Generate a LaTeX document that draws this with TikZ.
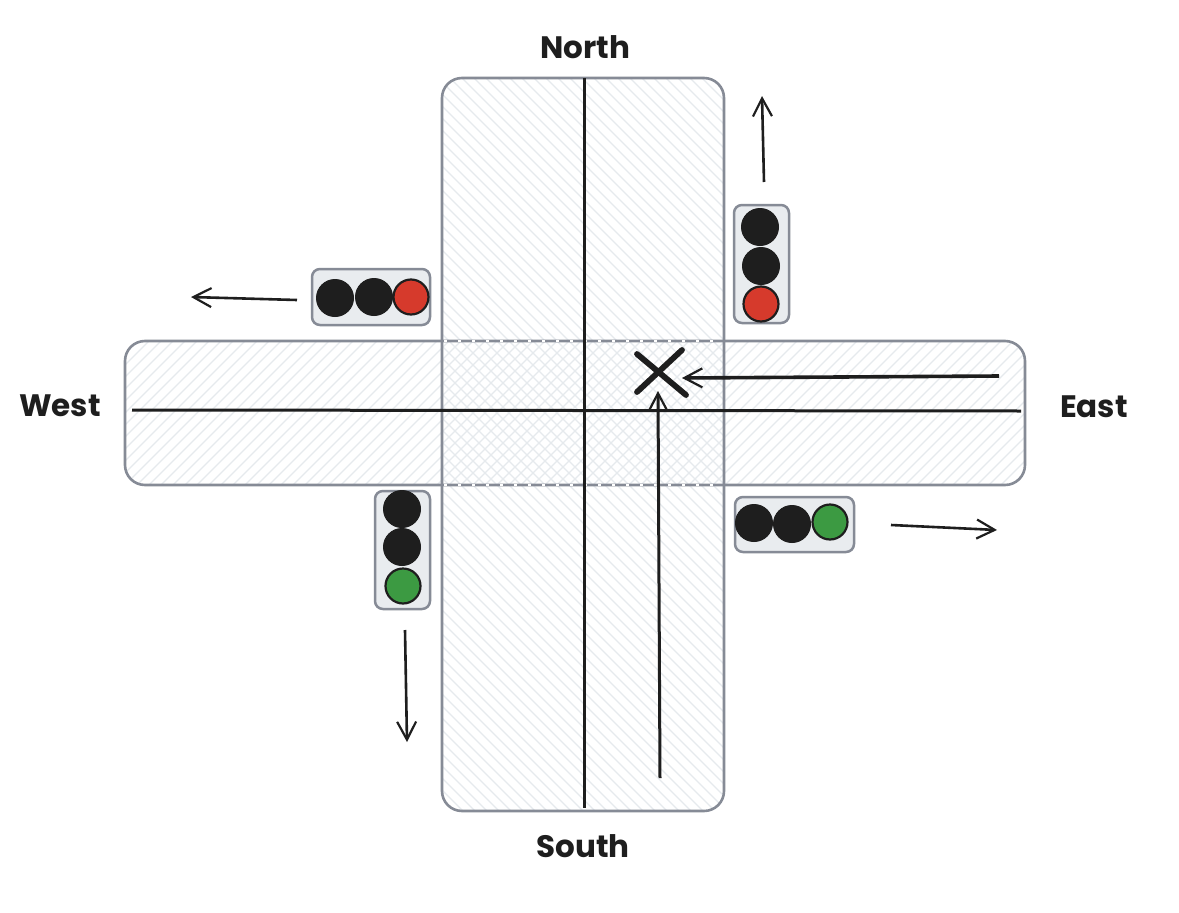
\documentclass[tikz,border=0pt]{standalone}
\usepackage{fontspec}
\setmainfont{Poppins}
\usetikzlibrary{arrows.meta}
\definecolor{ink}{HTML}{1E1E1E}
\definecolor{roadedge}{HTML}{868B96}
\definecolor{hatch}{HTML}{E6EAED}
\definecolor{panel}{HTML}{E9ECEF}
\definecolor{lampred}{HTML}{D63A2C}
\definecolor{lampgreen}{HTML}{3C9A42}
\tikzset{
  x=1pt,y=-1pt,
  roadedgeline/.style={draw=roadedge,line width=2.6pt,rounded corners=20pt},
  hatchline/.style={draw=hatch,line width=1.3pt},
  centre/.style={draw=ink,line width=3pt},
  flow/.style={draw=ink,line width=2.6pt,-{Straight Barb[length=18pt,width=19pt,line width=2.2pt]}},
  flowheavy/.style={flow,line width=3.6pt},
  panelbox/.style={fill=panel,draw=roadedge,line width=2.5pt,rounded corners=8pt},
  lamp/.style={circle,minimum size=37pt,inner sep=0pt,fill=ink,draw=ink,line width=1pt},
  redlamp/.style={lamp,fill=lampred,line width=2.2pt,minimum size=35pt},
  greenlamp/.style={lamp,fill=lampgreen,line width=2.2pt,minimum size=35pt},
  compass/.style={font=\fontsize{31}{34}\selectfont\bfseries,text=ink,inner sep=0pt},
  crossbar/.style={draw=ink,line width=5.8pt,line cap=round}
}
\begin{document}
\begin{tikzpicture}
\useasboundingbox (0,0) rectangle (1179,913);
\fill[white] (0,0) rectangle (1179,913);
% vertical road hatching
\begin{scope}
  \clip[rounded corners=20pt] (442,78) rectangle (724,811);
  \foreach \k in {-800,-788,...,800} {
    \draw[hatchline] (442,{78+\k}) -- (724,{78+\k+282});
  }
\end{scope}
% horizontal road hatching
\begin{scope}
  \clip[rounded corners=20pt] (125,341) rectangle (1025,485);
  \foreach \k in {0,12,...,1200} {
    \draw[hatchline] ({125+\k-144},485) -- ({125+\k},341);
  }
\end{scope}
% outlines
\draw[roadedgeline] (442,78) rectangle (724,811);
\draw[roadedgeline] (125,341) rectangle (1025,485);
\draw[white,line width=2.6pt,dash pattern=on 3pt off 11pt] (444,341) -- (722,341);
\draw[white,line width=1.2pt,dash pattern=on 3pt off 11pt] (444,485) -- (722,485);
% centre lines
\coordinate (nn) at (584,78);
\coordinate (ss) at (584,808);
\coordinate (ww) at (132,410);
\coordinate (ee) at (1021,411);
\draw[centre] (nn) -- (ss);
\draw[centre] (ww) -- (ee);
% labels
\node[compass] (north) at (585,47) {North};
\node[compass] (south) at (583,846) {South};
\node[compass] (west) at (60,406) {West};
\node[compass] (east) at (1094,407) {East};
% traffic lights: north
\draw[panelbox] (734,205) rectangle (789,323);
\node[lamp] (n1) at (760,227) {};
\node[lamp] (n2) at (761,266) {};
\node[redlamp] (n3) at (761,304) {};
% west
\draw[panelbox] (312,269) rectangle (430,325);
\node[lamp] (w1) at (335,298) {};
\node[lamp] (w2) at (374,297) {};
\node[redlamp] (w3) at (411,297) {};
% south
\draw[panelbox] (375,491) rectangle (430,609);
\node[lamp] (s1) at (402,509) {};
\node[lamp] (s2) at (402,547) {};
\node[greenlamp] (s3) at (403,586) {};
% east
\draw[panelbox] (735,497) rectangle (854,552);
\node[lamp] (e1) at (754,523) {};
\node[lamp] (e2) at (792,524) {};
\node[greenlamp] (e3) at (830,522) {};
% direction arrows
\coordinate (a1s) at (764,182); \coordinate (a1e) at (762,96);
\coordinate (a2s) at (297,300); \coordinate (a2e) at (191,297);
\coordinate (a3s) at (405,630); \coordinate (a3e) at (407,742);
\coordinate (a4s) at (891,525); \coordinate (a4e) at (997,530);
\draw[flow] (a1s) -- (a1e);
\draw[flow] (a2s) -- (a2e);
\draw[flow] (a3s) -- (a3e);
\draw[flow] (a4s) -- (a4e);
% conflicting flows
\coordinate (c1s) at (999,376); \coordinate (c1e) at (682,378);
\coordinate (c2s) at (660,778); \coordinate (c2e) at (658,391);
\draw[flowheavy] (c1s) -- (c1e);
\draw[flow,line width=3pt] (c2s) -- (c2e);
% cross
\coordinate (x1) at (637,354); \coordinate (x2) at (686,395);
\coordinate (x3) at (682,350); \coordinate (x4) at (637,392);
\draw[crossbar] (x1) -- (x2);
\draw[crossbar] (x3) -- (x4);
\end{tikzpicture}
\end{document}
